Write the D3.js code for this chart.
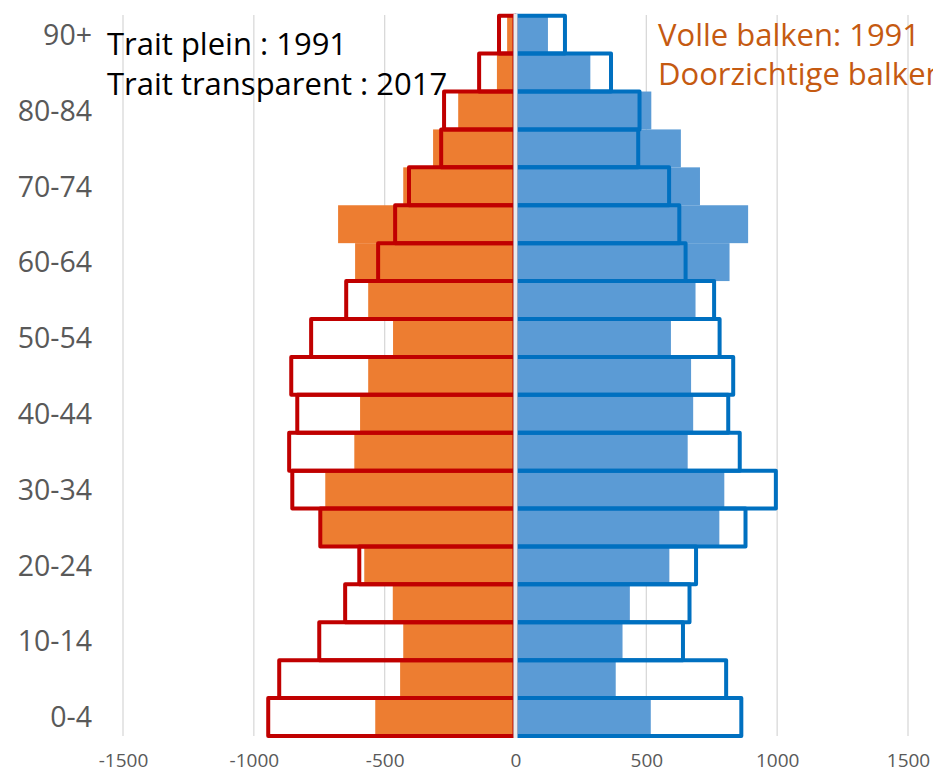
<!DOCTYPE html>
<html>
<head>
<meta charset="utf-8">
<script src="https://cdn.jsdelivr.net/npm/d3@7"></script>
<style>
  body { margin: 0; background: #fff; }
  svg { display: block; font-family: "Open Sans", "Noto Sans", sans-serif; }
</style>
</head>
<body>
<div id="chart"></div>
<script>
// age groups, bottom to top
var ages = ["0-4","5-9","10-14","15-19","20-24","25-29","30-34","35-39","40-44","45-49",
            "50-54","55-59","60-64","65-69","70-74","75-79","80-84","85-89","90+"];

// left side (negative values)
var leftFill1991    = [-536,-441,-429,-469,-578,-740,-727,-616,-594,-563,-468,-563,-613,-678,-429,-315,-219,-71,-32];
var leftOutline2017 = [-945,-903,-750,-651,-597,-746,-853,-865,-834,-857,-781,-647,-525,-460,-407,-284,-273,-139,-63];

// right side
var rightFill1991    = [517,383,409,437,588,779,798,658,679,671,594,688,818,889,705,632,519,286,124];
var rightOutline2017 = [863,805,640,665,690,879,995,857,813,832,780,759,650,626,587,469,474,365,189];

var xTicks = [-1500,-1000,-500,0,500,1000,1500];

var width = 933, height = 773;

var svg = d3.select("#chart").append("svg")
    .attr("width", width)
    .attr("height", height);

var x = d3.scaleLinear().domain([-1500, 1500]).range([123, 908]);
var y = d3.scaleBand().domain(ages).range([736, 15.7]).padding(0);

// grid
svg.append("g").selectAll("line")
    .data(xTicks.filter(function(d){ return d != 0; }))
    .enter().append("line")
    .attr("x1", function(d){ return x(d); })
    .attr("x2", function(d){ return x(d); })
    .attr("y1", 15)
    .attr("y2", 736)
    .style("stroke", "#d9d9d9")
    .style("stroke-width", 1.3);

// legend texts
var fr = svg.append("text")
    .style("font-size", "31px")
    .style("fill", "#000");
fr.append("tspan").attr("x", 107).attr("y", 55).text("Trait plein : 1991");
fr.append("tspan").attr("x", 107).attr("y", 95).text("Trait transparent : 2017");

// the second line runs past the right edge, as in the original slide
var nl = svg.append("text")
    .style("font-size", "31px")
    .style("fill", "#c55a11");
nl.append("tspan").attr("x", 658).attr("y", 46).text("Volle balken: 1991");
nl.append("tspan").attr("x", 658).attr("y", 85).text("Doorzichtige balken: 2017");

function rows(fill, outline){
    return ages.map(function(a, i){ return {age: a, fill: fill[i], outline: outline[i]}; });
}
var left = rows(leftFill1991, leftOutline2017);
var right = rows(rightFill1991, rightOutline2017);

function x0(v){ return Math.min(x(v), x(0)); }
function w(v){ return Math.abs(x(v) - x(0)); }

// filled bars
svg.append("g").selectAll("rect")
    .data(left).enter().append("rect")
    .attr("x", function(d){ return x0(d.fill); })
    .attr("y", function(d){ return y(d.age); })
    .attr("width", function(d){ return w(d.fill); })
    .attr("height", y.bandwidth())
    .style("fill", "#ed7d31");

svg.append("g").selectAll("rect")
    .data(right).enter().append("rect")
    .attr("x", function(d){ return x0(d.fill); })
    .attr("y", function(d){ return y(d.age); })
    .attr("width", function(d){ return w(d.fill); })
    .attr("height", y.bandwidth())
    .style("fill", "#5b9bd5");

// outline bars
svg.append("g").selectAll("rect")
    .data(left).enter().append("rect")
    .attr("x", function(d){ return x0(d.outline); })
    .attr("y", function(d){ return y(d.age); })
    .attr("width", function(d){ return w(d.outline); })
    .attr("height", y.bandwidth())
    .style("fill", "none")
    .style("stroke", "#c00000")
    .style("stroke-width", 4)
    .style("stroke-linejoin", "round");

svg.append("g").selectAll("rect")
    .data(right).enter().append("rect")
    .attr("x", function(d){ return x0(d.outline); })
    .attr("y", function(d){ return y(d.age); })
    .attr("width", function(d){ return w(d.outline); })
    .attr("height", y.bandwidth())
    .style("fill", "none")
    .style("stroke", "#0070c0")
    .style("stroke-width", 4)
    .style("stroke-linejoin", "round");

// zero axis
svg.append("line")
    .attr("x1", x(0) - 2.5).attr("x2", x(0) - 2.5)
    .attr("y1", 14).attr("y2", 738)
    .style("stroke", "#c00000")
    .style("stroke-width", 1);
svg.append("line")
    .attr("x1", x(0)).attr("x2", x(0))
    .attr("y1", 14).attr("y2", 738)
    .style("stroke", "#ebebeb")
    .style("stroke-width", 4);

// y axis
var yAxis = svg.append("g")
    .attr("transform", "translate(92,0)")
    .call(d3.axisLeft(y)
        .tickValues(ages.filter(function(d, i){ return i % 2 == 0; }))
        .tickSize(0)
        .tickPadding(0));
yAxis.select(".domain").remove();
yAxis.selectAll("text")
    .style("font-family", "'Open Sans', sans-serif")
    .style("font-size", "28.5px")
    .style("fill", "#595959")
    .attr("dy", "0.36em");

// x axis
var xAxis = svg.append("g")
    .attr("transform", "translate(0,753)")
    .call(d3.axisBottom(x)
        .tickValues(xTicks)
        .tickSize(0)
        .tickPadding(0)
        .tickFormat(function(d){ return String(d); }));
xAxis.select(".domain").remove();
xAxis.selectAll("text")
    .style("font-family", "'Open Sans', sans-serif")
    .style("font-size", "19px")
    .style("fill", "#595959")
    .attr("dy", "0.71em");
</script>
</body>
</html>
